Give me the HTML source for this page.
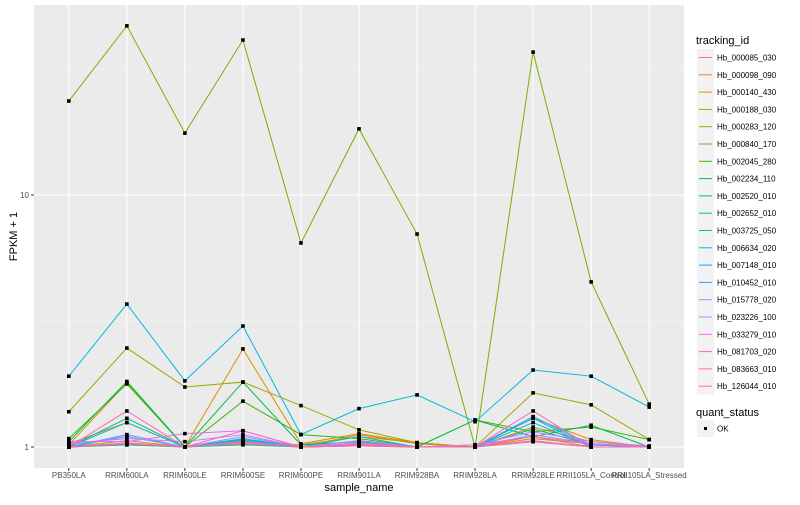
<!DOCTYPE html>
<html><head><meta charset="utf-8"><style>
body{margin:0;background:#fff;font-family:"Liberation Sans",sans-serif}
svg text{font-family:"Liberation Sans",sans-serif}
</style></head><body>
<svg id="c" width="800" height="500" xmlns="http://www.w3.org/2000/svg"></svg>
<script>
const samples=["PB350LA","RRIM600LA","RRIM600LE","RRIM600SE","RRIM600PE","RRIM901LA","RRIM928BA","RRIM928LA","RRIM928LE","RRII105LA_Control","RRII105LA_Stressed"];
const ids=["Hb_000085_030","Hb_000098_090","Hb_000140_430","Hb_000188_030","Hb_000283_120","Hb_000840_170","Hb_002045_280","Hb_002234_110","Hb_002520_010","Hb_002652_010","Hb_003725_050","Hb_006634_020","Hb_007148_010","Hb_010452_010","Hb_015778_020","Hb_023226_100","Hb_033279_010","Hb_081703_020","Hb_083663_010","Hb_126044_010"];
const colors=["#F8766D","#EA8331","#D89000","#C09B00","#A3A500","#7CAE00","#39B600","#00BB4E","#00BF7D","#00C1A3","#00BFC4","#00BAE0","#00B0F6","#35A2FF","#9590FF","#C77CFF","#E76BF3","#FA62DB","#FF62BC","#FF6C91"];
const s0=[1.0,1.02,1.0,1.03,1.0,1.01,1.0,1.0,1.1,1.0,1.0];
const s1=[1.03,1.25,1.0,1.05,1.0,1.12,1.03,1.0,1.2,1.05,1.0];
const s2=[1.02,1.8,1.0,2.45,1.03,1.13,1.04,1.0,1.3,1.07,1.0];
const s3=[1.0,1.06,1.0,1.04,1.02,1.1,1.04,1.0,1.08,1.03,1.0];
const s4=[1.38,2.47,1.73,1.81,1.46,1.17,1.04,1.0,1.64,1.47,1.07];
const s5=[23.6,46.9,17.6,41.2,6.45,18.3,7.0,1.0,36.9,4.52,1.48];
const s6=[1.08,1.78,1.0,1.52,1.12,1.08,1.0,1.28,1.15,1.2,1.07];
const s7=[1.05,1.82,1.0,1.81,1.02,1.05,1.0,1.28,1.1,1.22,1.0];
const s8=[1.0,1.3,1.0,1.07,1.0,1.06,1.0,1.0,1.18,1.02,1.0];
const s9=[1.0,1.02,1.0,1.02,1.0,1.01,1.0,1.0,1.05,1.0,1.0];
const s10=[1.0,1.25,1.0,1.08,1.0,1.1,1.0,1.0,1.25,1.0,1.0];
const s11=[1.91,3.69,1.83,3.02,1.12,1.42,1.61,1.26,2.02,1.91,1.44];
const s12=[1.0,1.1,1.0,1.05,1.0,1.02,1.0,1.0,1.3,1.0,1.0];
const s13=[1.0,1.12,1.0,1.06,1.0,1.03,1.0,1.0,1.32,1.02,1.0];
const s14=[1.02,1.1,1.0,1.1,1.0,1.04,1.0,1.0,1.12,1.03,1.0];
const s15=[1.03,1.08,1.05,1.12,1.0,1.06,1.0,1.02,1.15,1.05,1.01];
const s16=[1.05,1.05,1.13,1.16,1.0,1.03,1.0,1.02,1.1,1.03,1.0];
const s17=[1.0,1.04,1.0,1.05,1.0,1.02,1.0,1.0,1.05,1.0,1.0];
const s18=[1.0,1.39,1.0,1.16,1.0,1.01,1.0,1.0,1.39,1.0,1.0];
const s19=[1.0,1.03,1.0,1.04,1.0,1.02,1.0,1.0,1.06,1.0,1.0];
const series=[s0,s1,s2,s3,s4,s5,s6,s7,s8,s9,s10,s11,s12,s13,s14,s15,s16,s17,s18,s19];
const yTicks=[1,10];
const yTickLabels=["1","10"];

const svg=document.getElementById('c');
const NS="http://www.w3.org/2000/svg";
const PL=34,PR=684,PT=5,PB=468;
const step=(PR-PL)/(samples.length-1+1.2);
function xs(i){return PL+step*0.6+i*step;}
function ys(v){return 447-252*Math.log10(v);}
function mk(tag,attrs,parent){const e=document.createElementNS(NS,tag);for(const k in attrs)e.setAttribute(k,attrs[k]);(parent||svg).appendChild(e);return e;}

const bg=mk('rect',{x:PL,y:PT,width:PR-PL,height:PB-PT,fill:'#EBEBEB'});


[Math.sqrt(10),Math.sqrt(1000)].forEach(v=>{const l=mk('line',{x1:PL,x2:PR,y1:ys(v),y2:ys(v),stroke:'#F5F5F5','stroke-width':0.6});

});
yTicks.forEach((v,i)=>{
const l=mk('line',{x1:PL,x2:PR,y1:ys(v),y2:ys(v),stroke:'#fff','stroke-width':1.1});


mk('line',{x1:PL-3,x2:PL,y1:ys(v),y2:ys(v),stroke:'#333','stroke-width':1});
const t=mk('text',{x:PL-5,y:ys(v)+3,'text-anchor':'end','font-size':8,fill:'#4D4D4D'});t.textContent=yTickLabels[i];


});
samples.forEach((s,i)=>{
const l=mk('line',{x1:xs(i),x2:xs(i),y1:PT,y2:PB,stroke:'#fff','stroke-width':1.1});


mk('line',{x1:xs(i),x2:xs(i),y1:PB,y2:PB+3,stroke:'#333','stroke-width':1});
const t=mk('text',{x:xs(i),y:PB+10,'text-anchor':'middle','font-size':8,fill:'#4D4D4D'});t.textContent=s;


});
series.forEach((d,k)=>{
const p=mk('polyline',{points:d.map((v,i)=>xs(i)+','+ys(v)).join(' '),fill:'none',stroke:colors[k],'stroke-width':1});


});
series.forEach((d,k)=>{d.forEach((v,i)=>{
const c=mk('rect',{x:xs(i)-1.8,y:ys(v)-1.8,width:3.6,height:3.6,fill:'#000'});


});});
let t=mk('text',{x:(PL+PR)/2,y:491,'text-anchor':'middle','font-size':11,fill:'#000'});t.textContent='sample_name';


t=mk('text',{x:17,y:(PT+PB)/2,'text-anchor':'middle','font-size':11,fill:'#000',transform:`rotate(-90 17 ${(PT+PB)/2})`});t.textContent='FPKM + 1';


t=mk('text',{x:696,y:44,'font-size':11,fill:'#000'});t.textContent='tracking_id';


ids.forEach((id,k)=>{
const cy=57.5+k*17.3;
const g=mk('g',{});


mk('rect',{x:697,y:cy-8.5,width:17,height:17,fill:'#F2F2F2'},g);
mk('line',{x1:699,x2:712,y1:cy,y2:cy,stroke:colors[k],'stroke-width':1},g);
const tt=mk('text',{x:717,y:cy+3,'font-size':8,fill:'#000'},g);tt.textContent=id;
});
t=mk('text',{x:696,y:416,'font-size':11,fill:'#000'});t.textContent='quant_status';


const g2=mk('g',{});


mk('rect',{x:697,y:420,width:17,height:17,fill:'#F2F2F2'},g2);
mk('rect',{x:704,y:427,width:3,height:3,fill:'#000'},g2);
const ok=mk('text',{x:717,y:431.5,'font-size':8,fill:'#000'},g2);ok.textContent='OK';
</script>
</body></html>
